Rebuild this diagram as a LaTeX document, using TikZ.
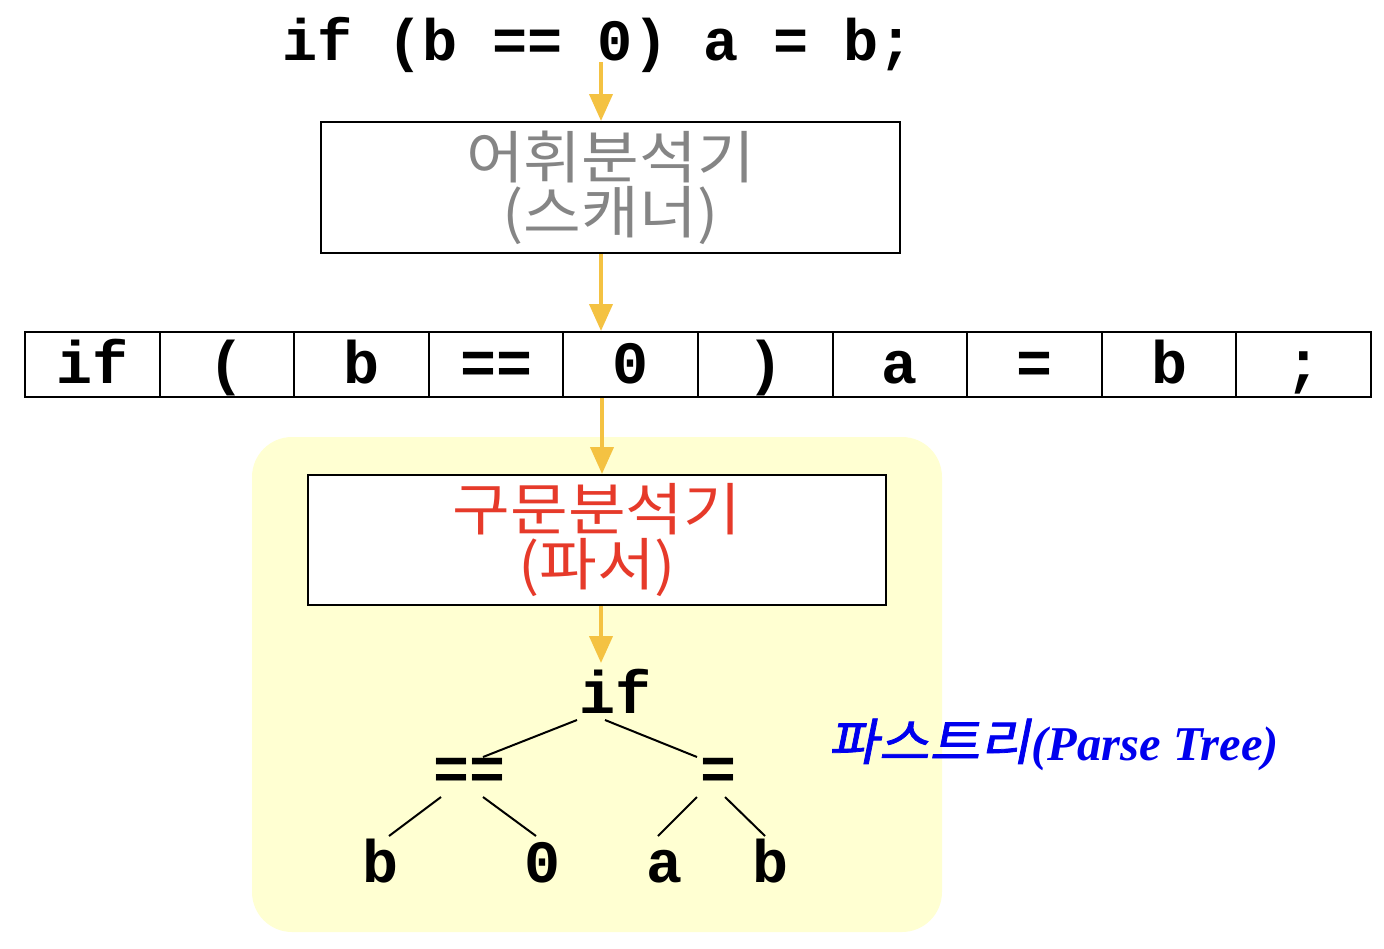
\documentclass[tikz,border=0pt]{standalone}
\usepackage{fontspec}
\setmainfont{Liberation Serif}
\setmonofont{Liberation Mono}
\newfontfamily\krfont{Noto Sans CJK KR}[FakeStretch=1.1]
\newfontfamily\krslant{Noto Sans CJK KR}[FakeSlant=0.2,FakeBold=1.5,FakeStretch=1.1]
\usetikzlibrary{arrows.meta}
\definecolor{arrowc}{HTML}{F4C242}
\definecolor{bgyellow}{HTML}{FFFFD2}
\definecolor{scangray}{HTML}{858585}
\definecolor{parsered}{HTML}{E63A2A}
\definecolor{treeblue}{HTML}{0000EE}
\begin{document}
\begin{tikzpicture}[x=1pt,y=-1pt,
  code/.style={font=\fontsize{60}{60}\selectfont\ttfamily\bfseries, inner sep=0pt},
  tok/.style={draw=black, line width=2pt, minimum width=134.6pt, minimum height=65pt,
    inner sep=0pt, text height=37pt, text depth=0pt,
    font=\fontsize{60}{60}\selectfont\ttfamily\bfseries},
  stagebox/.style={draw=black, line width=2pt, fill=white, inner sep=0pt, align=center},
  arr/.style={draw=arrowc, line width=4pt, -{Triangle[length=27pt,width=23pt]}},
  treeedge/.style={line width=2pt}]
\useasboundingbox (0,0) rectangle (1384,948);

% background region
\node[fill=bgyellow, rounded corners=40pt, minimum width=690pt, minimum height=495pt, inner sep=0pt] (bg) at (597,684.5) {};

% top source text
\node[code, anchor=base, font=\fontsize{58.5}{60}\selectfont\ttfamily\bfseries] (src) at (598,60) {if (b == 0) a = b;};

% scanner
\node[stagebox, minimum width=579pt, minimum height=131pt, text=scangray,
  font=\fontsize{57}{55}\selectfont\krfont] (scan) at (610.5,187.5) {어휘분석기\\(스캐너)};

% tokens
\node[tok] (t1) at (92.3,364.5) {if};
\node[tok] (t2) at (226.9,364.5) {(};
\node[tok] (t3) at (361.5,364.5) {b};
\node[tok] (t4) at (496.1,364.5) {==};
\node[tok] (t5) at (630.7,364.5) {0};
\node[tok] (t6) at (765.3,364.5) {)};
\node[tok] (t7) at (899.9,364.5) {a};
\node[tok] (t8) at (1034.5,364.5) {=};
\node[tok] (t9) at (1169.1,364.5) {b};
\node[tok] (t10) at (1303.7,364.5) {;};

% parser
\node[stagebox, minimum width=578pt, minimum height=130pt, text=parsered,
  font=\fontsize{57}{55}\selectfont\krfont] (parse) at (597,540) {구문분석기\\(파서)};

% arrow x positions
\coordinate (ax) at (601,0);
\coordinate (bx) at (602,0);
\draw[arr] ([yshift=-2pt]src.base -| ax) -- (scan.north -| ax);
\draw[arr] (scan.south -| ax) -- (t5.north -| ax);
\draw[arr] (t5.south -| bx) -- (parse.north -| bx);
\draw[arr] (parse.south -| ax) -- ([yshift=-57pt]parse.south -| ax);

% tree
\node[code, anchor=base] (nif) at (615,713) {if};
\node[code, anchor=base] (neqeq) at (470,789) {==};
\node[code, anchor=base] (neq) at (718,789) {=};
\node[code, anchor=base] (nb1) at (380,882) {b};
\node[code, anchor=base] (nzero) at (542,882) {0};
\node[code, anchor=base] (na) at (664,882) {a};
\node[code, anchor=base] (nb2) at (770,882) {b};

\draw[treeedge] ([shift={(-38,7)}]nif.base) -- ([shift={(13,-32)}]neqeq.base);
\draw[treeedge] ([shift={(-10,7)}]nif.base) -- ([shift={(-21,-32)}]neq.base);
\draw[treeedge] ([shift={(-29,8)}]neqeq.base) -- ([shift={(9,-46)}]nb1.base);
\draw[treeedge] ([shift={(13,8)}]neqeq.base) -- ([shift={(-6,-46)}]nzero.base);
\draw[treeedge] ([shift={(-21,8)}]neq.base) -- ([shift={(-6,-46)}]na.base);
\draw[treeedge] ([shift={(7,8)}]neq.base) -- ([shift={(-5,-46)}]nb2.base);

% parse tree label
\node[anchor=base west, inner sep=0pt, text=treeblue, font=\fontsize{48.5}{48}\selectfont]
  (ptl) at (828,760) {{\krslant\fontsize{50}{48}\selectfont 파스트리}\kern1pt\textbf{\textit{(Parse Tree)}}};
\end{tikzpicture}
\end{document}
